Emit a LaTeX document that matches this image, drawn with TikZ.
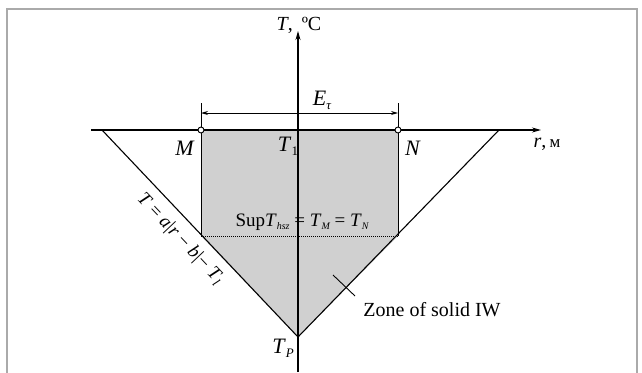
\documentclass[tikz,border=0pt]{standalone}
\usepackage{fontspec}
\setmainfont{Liberation Serif}
\usetikzlibrary{arrows.meta}
\newcommand\lsub[1]{\raisebox{-0.4ex}{\fontsize{13}{13}\selectfont\itshape #1}}
\newcommand\tsub[1]{\raisebox{-0.4ex}{\fontsize{10}{10}\selectfont\itshape #1}}
\definecolor{zone}{RGB}{208,208,208}
\definecolor{frame}{RGB}{170,170,170}
\tikzset{
  lbl/.style={inner sep=0pt, font=\fontsize{22}{22}\selectfont},
  tlb/.style={inner sep=0pt, font=\fontsize{20}{20}\selectfont},
  mid/.style={inner sep=0pt, font=\fontsize{19}{19}\selectfont},
  ln/.style={line width=1.1pt, black},
  axis/.style={line width=1.2pt, -{Stealth[length=9pt,width=5pt]}},
  dim/.style={line width=0.9pt, {Stealth[length=7pt,width=4pt]}-{Stealth[length=7pt,width=4pt]}},
  pt/.style={circle, draw, line width=0.9pt, fill=white, inner sep=0pt, minimum size=6pt}
}
\begin{document}
\begin{tikzpicture}[x=1pt,y=-1pt]
\useasboundingbox (0,0) rectangle (642,372);
\draw[frame, line width=1.8pt] (7,380) -- (7,9) -- (637,9) -- (637,380);
% key points
\coordinate (M) at (201,130);
\coordinate (N) at (398,130);
\coordinate (Mb) at (201,236);
\coordinate (Nb) at (398,236);
\coordinate (TP) at (298,337);
\coordinate (L) at (102,130);
\coordinate (R) at (499,130);
% zone
\fill[zone] (M) -- (N) -- (Nb) -- (TP) -- (Mb) -- cycle;
\draw[ln] (L) -- (TP) -- (R);
\draw[line width=0.8pt] (M) -- (Mb);
\draw[line width=0.8pt] (N) -- (Nb);
\draw[line width=1pt, densely dotted] (Mb) -- (Nb);
% axes
\coordinate (xs) at (91,130);
\coordinate (xe) at (541,130);
\coordinate (ys) at (298,372);
\coordinate (ye) at (298,31);
\draw[axis] (xs) -- (xe);
\draw[axis] (ys) -- (ye);
% dimension
\coordinate (Mt) at (201,103);
\coordinate (Nt) at (398,103);
\draw[line width=0.8pt] (Mt) -- (M);
\draw[line width=0.8pt] (Nt) -- (N);
\coordinate (Ma) at (201,113);
\coordinate (Na) at (398,113);
\draw[dim] (Ma) -- (Na);
\node[pt] (Mc) at (M) {};
\node[pt] (Nc) at (N) {};
% leader
\coordinate (la) at (333,275);
\coordinate (lb) at (355,296);
\draw[line width=0.9pt] (la) -- (lb);
% labels
\node[tlb] (tlab) at (299,25) {\textit{T},\hspace{0.45em}ºC};
\node[tlb] (rlab) at (547,144) {\textit{r},\,\fontsize{17}{17}\selectfont м};
\node[lbl] (Mlab) at (185,148) {\textit{M}};
\node[lbl] (Nlab) at (413,148) {\textit{N}};
\node[lbl] (T1lab) at (288,146) {\textit{T}\lsub{\upshape 1}};
\node[lbl] (Elab) at (322,100) {\textit{E}\lsub{τ}};
\node[mid] (sup) at (302,222) {Sup\textit{T}\tsub{hsz} = \textit{T}\tsub{M} = \textit{T}\tsub{N}};
\node[lbl] (TPlab) at (283,348) {\textit{T}\lsub{P}};
\node[tlb] (zlab) at (432,310) {Zone of solid IW};
\node[mid, rotate=-46.6] (eq) at (180,239) {\textit{T} = \textit{a}|\textit{r} − \textit{b}|− \textit{T}\lsub{l}};
\end{tikzpicture}
\end{document}
